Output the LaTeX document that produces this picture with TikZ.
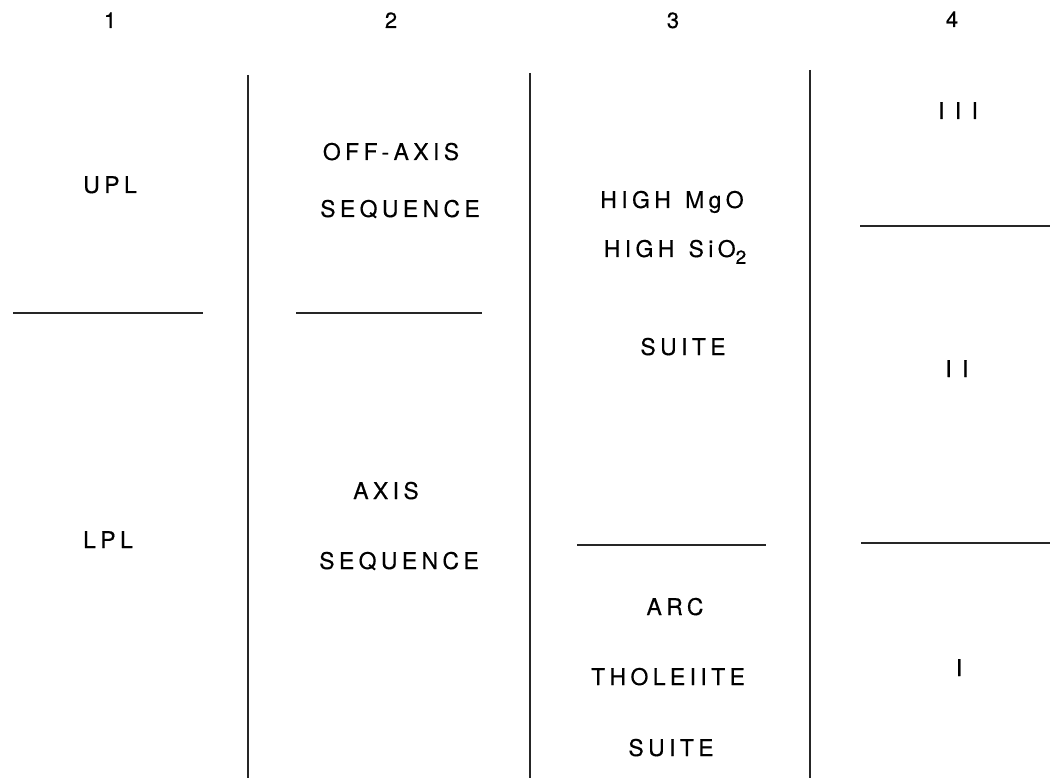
\documentclass[tikz,border=0pt]{standalone}
\usepackage{fontspec}
\setmainfont{TeX Gyre Heros}
\newfontfamily\lblfont[LetterSpace=19,FakeBold=0.3]{TeX Gyre Heros}
\newfontfamily\romfont[LetterSpace=45,FakeBold=0.5]{TeX Gyre Heros}
\tikzset{
  lbl/.style={font=\lblfont\fontsize{23}{23}\selectfont, inner sep=0pt, anchor=base},
  numlbl/.style={font=\lblfont\fontsize{22}{22}\selectfont, inner sep=0pt, anchor=base},
  romlbl/.style={font=\romfont\fontsize{23}{23}\selectfont, inner sep=0pt, anchor=base},
  vrule/.style={line width=1.8pt, black!85},
  hrule/.style={line width=2.2pt, black!85}
}
\begin{document}
\begin{tikzpicture}[x=1pt,y=-1pt]
\useasboundingbox (0,0) rectangle (1055,778);
% column numbers
\node[numlbl] (n1) at (110,28) {1};
\node[numlbl] (n2) at (391,28) {2};
\node[numlbl] (n3) at (673,28) {3};
\node[numlbl] (n4) at (952,27) {4};
% vertical dividers
\coordinate (v1t) at (248,75);  \coordinate (v1b) at (248,778);
\coordinate (v2t) at (530,73);  \coordinate (v2b) at (530,778);
\coordinate (v3t) at (810,70);  \coordinate (v3b) at (810,778);
\draw[vrule] (v1t) -- (v1b);
\draw[vrule] (v2t) -- (v2b);
\draw[vrule] (v3t) -- (v3b);
% horizontal boundaries
\coordinate (h1a) at (13,313);  \coordinate (h1b) at (203,313);
\coordinate (h2a) at (296,313); \coordinate (h2b) at (482,313);
\coordinate (h3a) at (577,545); \coordinate (h3b) at (766,545);
\coordinate (h4a) at (860,226); \coordinate (h4b) at (1050,226);
\coordinate (h5a) at (861,543); \coordinate (h5b) at (1050,543);
\draw[hrule] (h1a) -- (h1b);
\draw[hrule] (h2a) -- (h2b);
\draw[hrule] (h3a) -- (h3b);
\draw[hrule] (h4a) -- (h4b);
\draw[hrule] (h5a) -- (h5b);
% column 1
\node[lbl] (upl) at (110,193) {UPL};
\node[lbl] (lpl) at (108,548) {LPL};
% column 2
\node[lbl] (off) at (391,160) {OFF-AXIS};
\node[lbl] (seq1) at (400,217) {SEQUENCE};
\node[lbl] (axis) at (386,499) {AXIS};
\node[lbl] (seq2) at (399,569) {SEQUENCE};
% column 3
\node[lbl] (mgo) at (672,208) {HIGH \kern0.15em MgO};
\node[lbl] (sio) at (675,257) {HIGH \kern0.15em SiO\raisebox{-0.3em}{\fontsize{19}{19}\selectfont 2}};
\node[lbl] (suite1) at (683,355) {SUITE};
\node[lbl] (arc) at (675,615) {ARC};
\node[lbl] (thol) at (668,685) {THOLEIITE};
\node[lbl] (suite2) at (671,756) {SUITE};
% column 4
\node[romlbl] (r3) at (958,119) {III};
\node[romlbl] (r2) at (957,377) {II};
\node[romlbl] (r1) at (959,676) {I};
\end{tikzpicture}
\end{document}
